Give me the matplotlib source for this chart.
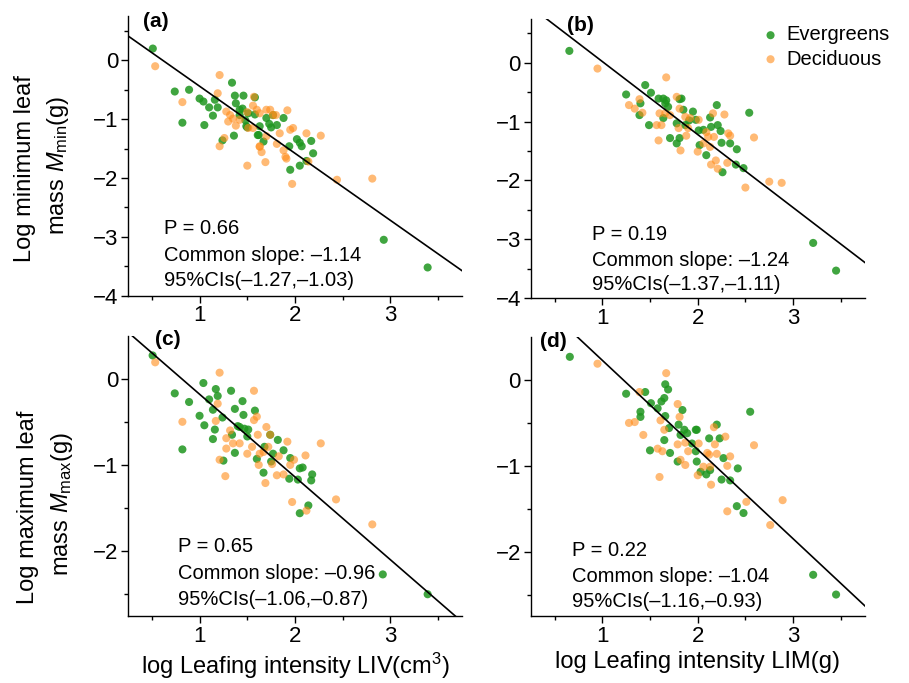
import matplotlib
matplotlib.use("Agg")
import matplotlib.pyplot as plt
import numpy as np

plt.rcParams['font.family'] = ['Liberation Sans', 'DejaVu Sans']
plt.rcParams['mathtext.fontset'] = 'custom'
plt.rcParams['mathtext.rm'] = 'Liberation Sans'
plt.rcParams['mathtext.it'] = 'Liberation Sans:italic'

# ---------------- data ----------------
# Panel (a): log LIV vs log Mmin
a_ev_x = [0.51, 0.74, 0.89, 0.82, 1.00, 1.04, 1.05, 1.10, 1.14, 1.16, 1.19, 1.24, 1.34, 1.36, 1.37, 1.38,
          1.42, 1.42, 1.46, 1.48, 1.51, 1.50, 1.58, 1.62, 1.63, 1.67, 1.70, 1.75, 1.77, 1.81, 1.88, 1.94,
          1.95, 2.02, 2.05, 2.07, 2.05, 2.17, 2.19, 2.12, 2.93, 3.39, 1.45, 1.58, 1.73, 1.49, 1.61]
a_ev_y = [0.20, -0.53, -0.50, -1.06, -0.65, -0.70, -1.10, -0.80, -0.94, -0.67, -0.80, -1.36, -0.38, -1.28,
          -0.60, -0.73, -0.84, -0.93, -0.60, -1.02, -0.90, -1.14, -0.63, -1.27, -1.12, -1.38, -0.98, -1.14,
          -0.93, -1.10, -0.98, -1.46, -1.86, -1.34, -1.40, -1.46, -1.79, -1.37, -1.58, -1.71, -3.05, -3.52,
          -0.82, -0.92, -1.08, -1.12, -1.27]
a_de_x = [0.535, 0.82, 1.21, 1.19, 1.21, 1.26, 1.28, 1.32, 1.30, 1.35, 1.38, 1.50, 1.56, 1.57, 1.60, 1.63,
          1.63, 1.65, 1.69, 1.70, 1.74, 1.77, 1.80, 1.81, 1.84, 1.92, 1.90, 1.95, 1.98, 1.97, 2.12, 2.14,
          2.27, 2.44, 2.81, 1.51, 1.42, 1.56, 1.70, 1.88, 1.91, 1.63, 1.50]
a_de_y = [-0.10, -0.71, -0.25, -0.56, -1.46, -1.32, -0.87, -0.93, -1.04, -0.99, -1.11, -1.79, -0.77, -0.62,
          -0.84, -0.90, -1.46, -1.56, -1.73, -0.84, -0.84, -0.93, -0.93, -1.42, -1.24, -0.85, -1.64, -1.18,
          -1.15, -2.10, -1.24, -1.72, -1.28, -2.03, -2.01, -1.15, -1.01, -1.15, -1.29, -1.53, -1.67, -1.47,
          -0.88]

# Panel (b): log LIM vs log Mmin
b_ev_x = [0.655, 1.25, 1.45, 1.51, 1.40, 1.39, 1.49, 1.59, 1.64, 1.66, 1.67, 1.69, 1.64, 1.71, 1.78, 1.81,
          1.83, 1.81, 1.85, 1.78, 1.95, 1.98, 2.01, 2.02, 2.06, 2.09, 2.13, 2.14, 2.20, 2.21, 2.24, 2.25,
          2.26, 2.34, 2.41, 2.40, 2.48, 2.54, 3.21, 3.45, 1.87, 1.91]
b_ev_y = [0.20, -0.54, -0.38, -0.51, -0.69, -0.89, -1.06, -0.61, -0.61, -0.69, -0.64, -0.75, -0.94, -1.28,
          -1.37, -0.62, -0.61, -1.28, -0.80, -1.03, -0.83, -0.97, -1.15, -1.40, -1.14, -1.57, -0.93, -1.09,
          -0.72, -1.06, -1.16, -1.36, -1.86, -1.37, -1.47, -1.73, -1.79, -0.85, -3.06, -3.53, -1.06, -0.98]
b_de_x = [0.95, 1.28, 1.34, 1.39, 1.42, 1.57, 1.59, 1.62, 1.67, 1.66, 1.60, 1.71, 1.78, 1.81, 1.80, 1.82,
          1.87, 1.90, 1.88, 1.92, 2.01, 2.00, 2.11, 2.13, 2.14, 2.16, 2.17, 2.19, 2.21, 2.28, 2.31, 2.32,
          2.34, 2.50, 2.59, 2.75, 2.88, 2.06, 2.09]
b_de_y = [-0.10, -0.72, -0.78, -0.62, -0.85, -1.06, -1.32, -1.06, -0.25, -0.86, -0.86, -0.89, -0.58, -0.78,
          -1.11, -1.49, -0.92, -1.11, -1.24, -0.94, -0.97, -1.51, -1.26, -1.43, -1.73, -0.86, -1.26, -1.66,
          -1.80, -0.88, -1.70, -1.20, -1.24, -2.12, -1.27, -2.02, -2.04, -1.37, -1.18]

# Panel (c): log LIV vs log Mmax
c_ev_x = [0.508, 0.74, 0.89, 0.82, 1.00, 1.04, 1.05, 1.10, 1.14, 1.14, 1.17, 1.19, 1.16, 1.24, 1.25, 1.33,
          1.37, 1.37, 1.40, 1.45, 1.46, 1.47, 1.51, 1.50, 1.58, 1.60, 1.67, 1.68, 1.74, 1.75, 1.82, 1.77,
          1.88, 1.94, 1.95, 2.05, 2.08, 2.03, 2.05, 2.14, 2.18, 2.17, 2.92, 3.39, 1.34, 1.42]
c_ev_y = [0.27, -0.17, -0.27, -0.82, -0.43, -0.05, -0.54, -0.24, -0.36, -0.70, -0.12, -0.20, -0.59, -0.45,
          -0.95, -0.14, -0.35, -0.86, -0.55, -0.26, -0.42, -0.58, -0.59, -0.67, -0.37, -0.93, -1.09, -0.79,
          -0.65, -0.96, -0.71, -0.87, -0.83, -1.16, -0.92, -1.04, -1.03, -1.17, -1.56, -1.47, -1.11, -1.18,
          -2.27, -2.50, -0.65, -0.56]
c_de_x = [0.535, 0.82, 1.21, 1.19, 1.17, 1.21, 1.27, 1.28, 1.28, 1.32, 1.35, 1.42, 1.50, 1.57, 1.57, 1.60,
          1.61, 1.63, 1.62, 1.69, 1.70, 1.72, 1.74, 1.76, 1.81, 1.83, 1.88, 1.92, 1.95, 1.97, 1.99, 2.11,
          2.12, 2.27, 2.43, 2.81, 1.67, 1.55]
c_de_y = [0.19, -0.50, 0.07, -0.29, -0.49, -0.94, -1.13, -0.81, -0.69, -0.60, -0.75, -0.75, -0.87, -0.14,
          -0.48, -0.44, -0.65, -0.87, -1.00, -1.21, -0.56, -0.79, -0.65, -0.99, -1.12, -0.90, -1.11, -0.73,
          -1.00, -1.43, -0.94, -0.89, -1.53, -0.75, -1.40, -1.69, -0.85, -0.79]

# Panel (d): log LIM vs log Mmax
d_ev_x = [0.66, 1.25, 1.45, 1.51, 1.40, 1.40, 1.50, 1.58, 1.62, 1.65, 1.66, 1.69, 1.66, 1.70, 1.65, 1.71,
          1.79, 1.84, 1.80, 1.82, 1.86, 1.89, 1.98, 1.94, 1.98, 1.99, 2.03, 2.09, 2.12, 2.13, 2.20, 2.23,
          2.25, 2.27, 2.34, 2.42, 2.41, 2.48, 2.55, 3.21, 3.45, 1.99]
d_ev_y = [0.27, -0.16, -0.14, -0.27, -0.37, -0.43, -0.82, -0.33, -0.25, -0.21, -0.05, -0.11, -0.42, -0.56,
          -0.70, -0.85, -0.95, -0.35, -0.52, -0.64, -0.58, -0.62, -0.58, -0.74, -0.83, -0.95, -1.07, -1.10,
          -0.68, -1.05, -0.52, -0.68, -1.16, -0.91, -1.17, -1.03, -1.47, -1.55, -0.37, -2.27, -2.50, -0.58]
d_de_x = [0.95, 1.28, 1.34, 1.39, 1.43, 1.58, 1.60, 1.63, 1.61, 1.67, 1.65, 1.79, 1.81, 1.79, 1.82, 1.87,
          1.90, 1.87, 2.00, 2.01, 2.12, 2.13, 2.14, 2.17, 2.18, 2.20, 2.29, 2.31, 2.34, 2.31, 2.51, 2.59,
          2.76, 2.89, 2.06, 2.10]
d_de_y = [0.19, -0.50, -0.49, -0.14, -0.64, -0.80, -1.13, -0.83, -0.47, 0.08, -0.58, -0.28, -0.43, -0.75,
          -0.93, -0.73, -0.83, -0.99, -1.11, -0.74, -0.87, -1.01, -1.22, -0.55, -0.75, -0.86, -0.66, -1.00,
          -0.89, -1.53, -1.42, -0.76, -1.69, -1.40, -1.01, -0.85]

# common-slope fit lines: intercept, slope
fit_a = (0.70, -1.14)
fit_b = (1.26, -1.24)
fit_c = (0.78, -0.96)
fit_d = (1.27, -1.04)

p_values = ["0.66", "0.19", "0.65", "0.22"]
slopes = ["\u20131.14", "\u20131.24", "\u20130.96", "\u20131.04"]
cis = ["(\u20131.27,\u20131.03)", "(\u20131.37,\u20131.11)", "(\u20131.06,\u20130.87)", "(\u20131.16,\u20130.93)"]
panel_labels = ["(a)", "(b)", "(c)", "(d)"]

green = '#1e961e'
orange = '#ff8c1a'

fig = plt.figure(figsize=(9.09, 6.83), dpi=100)
W, H = 909, 683

def px_axes(left, top, right, bottom):
    return fig.add_axes([left / W, 1 - bottom / H, (right - left) / W, (bottom - top) / H])

ax_a = px_axes(128, 16.2, 462, 295.7)
ax_b = px_axes(530.7, 18.5, 864.7, 298.3)
ax_c = px_axes(128, 335.6, 462, 615.8)
ax_d = px_axes(530.7, 337.1, 864.7, 616)

panels = [
    (ax_a, a_ev_x, a_ev_y, a_de_x, a_de_y, fit_a, (-4, 0.75), [0, -1, -2, -3, -4]),
    (ax_b, b_ev_x, b_ev_y, b_de_x, b_de_y, fit_b, (-4, 0.75), [0, -1, -2, -3, -4]),
    (ax_c, c_ev_x, c_ev_y, c_de_x, c_de_y, fit_c, (-2.75, 0.5), [0, -1, -2]),
    (ax_d, d_ev_x, d_ev_y, d_de_x, d_de_y, fit_d, (-2.75, 0.5), [0, -1, -2]),
]

text_pos = [(0.107, [0.219, 0.123, 0.033]),
            (0.184, [0.209, 0.116, 0.029]),
            (0.149, [0.226, 0.131, 0.039]),
            (0.124, [0.216, 0.123, 0.031])]
label_pos = [(0.045, 1.015), (0.108, 1.01), (0.082, 1.02), (0.028, 1.02)]

for i, (ax, ex, ey, dx, dy, fit, ylim, yt) in enumerate(panels):
    ax.scatter(ex, ey, s=34, color=green, alpha=0.85, edgecolors='none', label='Evergreens', zorder=2)
    ax.scatter(dx, dy, s=34, color=orange, alpha=0.6, edgecolors='none', label='Deciduous', zorder=3)
    xs = np.array([0.0, 4.0])
    ax.plot(xs, fit[0] + fit[1] * xs, color='black', lw=1.2, zorder=4)
    ax.set_xlim(0.25, 3.75)
    ax.set_ylim(*ylim)
    ax.set_xticks([1, 2, 3])
    ax.set_xticks([0.5, 1.5, 2.5, 3.5], minor=True)
    ax.set_yticks(yt)
    ax.spines['top'].set_visible(False)
    ax.spines['right'].set_visible(False)
    for s in ['left', 'bottom']:
        ax.spines[s].set_linewidth(1.0)
    ax.tick_params(which='major', length=5, width=1.0, labelsize=16, pad=2)
    ax.tick_params(which='minor', length=3, width=1.0)
    tx, tys = text_pos[i]
    ax.text(tx, tys[0], "P = " + p_values[i], transform=ax.transAxes, fontsize=14.5, va='baseline')
    ax.text(tx, tys[1], "Common slope: " + slopes[i], transform=ax.transAxes, fontsize=14.5, va='baseline')
    ax.text(tx, tys[2], "95%CIs" + cis[i], transform=ax.transAxes, fontsize=14.5, va='baseline')
    lx, ly = label_pos[i]
    ax.text(lx, ly, panel_labels[i], transform=ax.transAxes, fontsize=15, fontweight='bold',
            va='top', ha='left')

# minor y ticks at half units
ax_a.set_yticks([-3.5, -2.5, -1.5, -0.5, 0.5], minor=True)
ax_b.set_yticks([-3.5, -2.5, -1.5, -0.5, 0.5], minor=True)
ax_c.set_yticks([-2.5, -1.5, -0.5], minor=True)
ax_d.set_yticks([-2.5, -1.5, -0.5], minor=True)

ax_b.legend(loc='upper left', bbox_to_anchor=(0.70, 0.975), frameon=False, fontsize=14.5,
            handlelength=0.6, handletextpad=0.5, borderpad=0, borderaxespad=0, labelspacing=0.25,
            scatterpoints=1)

ax_c.set_xlabel("log Leafing intensity LIV(cm$^3$)", fontsize=17, labelpad=3)
ax_d.set_xlabel("log Leafing intensity LIM(g)", fontsize=17, labelpad=3)

fig.text(25 / W, 1 - 169 / H, "Log minimum leaf", rotation=90, fontsize=17, ha='center', va='center')
fig.text(58 / W, 1 - 165 / H, "mass $\\mathit{M}_{\\mathrm{min}}$(g)", rotation=90, fontsize=17,
         ha='center', va='center')
fig.text(28 / W, 1 - 507 / H, "Log maximum leaf", rotation=90, fontsize=17, ha='center', va='center')
fig.text(62 / W, 1 - 504 / H, "mass $\\mathit{M}_{\\mathrm{max}}$(g)", rotation=90, fontsize=17,
         ha='center', va='center')

fig.savefig("out.png", dpi=100)
